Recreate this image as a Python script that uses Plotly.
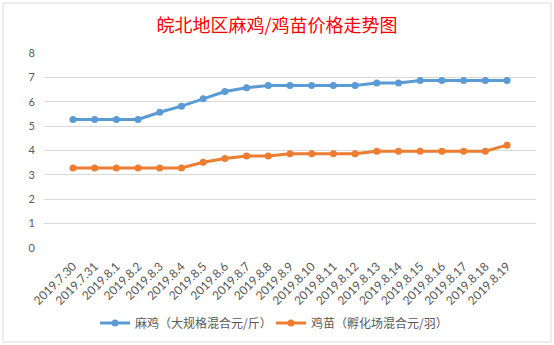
import plotly.graph_objects as go

dates = ["2019.7.30", "2019.7.31", "2019.8.1", "2019.8.2", "2019.8.3", "2019.8.4", "2019.8.5",
         "2019.8.6", "2019.8.7", "2019.8.8", "2019.8.9", "2019.8.10", "2019.8.11", "2019.8.12",
         "2019.8.13", "2019.8.14", "2019.8.15", "2019.8.16", "2019.8.17", "2019.8.18", "2019.8.19"]
maji = [5.27, 5.27, 5.27, 5.27, 5.57, 5.82, 6.12, 6.42, 6.57, 6.67, 6.67, 6.67, 6.67, 6.67,
        6.77, 6.77, 6.87, 6.87, 6.87, 6.87, 6.87]
jimiao = [3.28, 3.28, 3.28, 3.28, 3.28, 3.28, 3.52, 3.67, 3.77, 3.77, 3.87, 3.87, 3.87, 3.87,
          3.97, 3.97, 3.97, 3.97, 3.97, 3.97, 4.22]
names = ["麻鸡（大规格混合元/斤）", "鸡苗（孵化场混合元/羽）"]
colors = ["#5B9BD5", "#ED7D31"]

W, H = 554, 345
L, R, T, B = 44, 18, 53, 97
pw, ph = W - L - R, H - T - B

fig = go.Figure()
for name, vals, c in zip(names, [maji, jimiao], colors):
    fig.add_trace(go.Scatter(x=dates, y=vals, name=name, mode="lines+markers",
                             line=dict(color=c, width=3),
                             marker=dict(color=c, size=7)))

def px(x):
    return (x - L) / pw

def py(y):
    return (H - B - y) / ph

fig.add_shape(type="rect", xref="paper", yref="paper",
              x0=px(3), x1=px(551), y0=py(3), y1=py(342),
              line=dict(color="#D9D9D9", width=1), layer="below")

fig.update_layout(
    width=W, height=H,
    margin=dict(l=L, r=R, t=T, b=B, autoexpand=False),
    paper_bgcolor="white", plot_bgcolor="white",
    font=dict(family="Lato, 'Noto Sans CJK SC'", color="#595959", size=11),
    title=dict(text="皖北地区麻鸡/鸡苗价格走势图", x=277 / W, xanchor="center",
               y=1 - 26 / H, yanchor="middle", yref="container",
               font=dict(family="'Noto Sans CJK SC'", size=18, color="#FF0000")),
    xaxis=dict(type="category", showgrid=False, showline=False, ticks="",
               tickangle=-45, tickfont=dict(size=12, color="#595959"),
               zeroline=False, ticklabelstandoff=8),
    yaxis=dict(range=[0, 8], dtick=1, showgrid=True, gridcolor="#D9D9D9", gridwidth=1,
               zeroline=False, showline=False, ticks="", ticklabelstandoff=8,
               tickfont=dict(size=11, color="#595959")),
    legend=dict(orientation="h", x=px(95), xanchor="left",
                y=py(323), yanchor="middle", entrywidth=131, entrywidthmode="pixels",
                font=dict(size=12, color="#595959", family="'Noto Sans CJK SC'")),
    showlegend=True,
)

fig.write_html("out.html")
